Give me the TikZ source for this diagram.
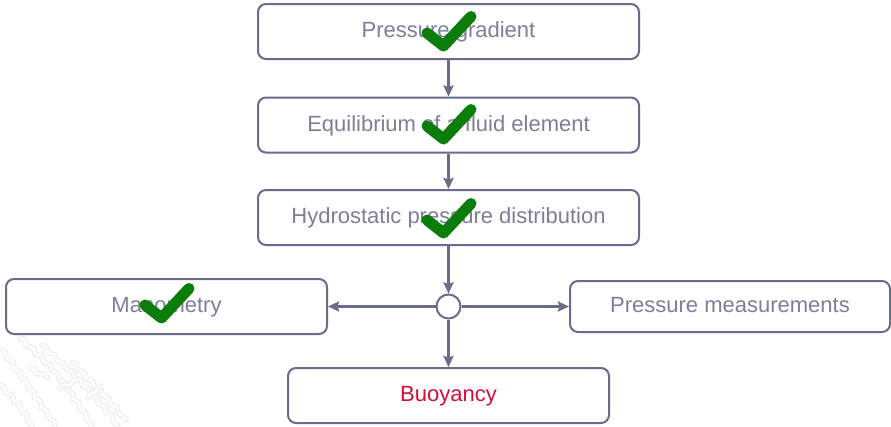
\documentclass[tikz,border=0pt]{standalone}
\usepackage{fontspec}
\setmainfont{Liberation Sans}
\usetikzlibrary{arrows.meta,decorations.pathmorphing}
\definecolor{edgeclr}{HTML}{6B6B8A}
\definecolor{txtclr}{HTML}{7E7E99}
\definecolor{hotclr}{HTML}{D0103A}
\definecolor{tickclr}{HTML}{0A7D0A}
\definecolor{leafclr}{HTML}{F0F0F0}
\tikzset{
  stepbox/.style={draw=edgeclr, line width=2pt, rounded corners=8pt, fill=white,
    minimum height=55pt, inner sep=0pt, text=txtclr,
    font=\fontsize{22pt}{24pt}\selectfont, text height=1.26em, text depth=0pt},
  hub/.style={draw=edgeclr, line width=2pt, circle, fill=white, minimum size=24pt, inner sep=0pt},
  flow/.style={draw=edgeclr, line width=2.4pt, -{Stealth[length=11pt,width=10pt,inset=1.5pt]}},
  tick/.style={draw=tickclr, line width=11pt, line cap=round, line join=round},
  leaf/.style={draw=leafclr, line width=1.6pt, double=white, double distance=2.2pt, line cap=round,
    decorate, decoration={snake, amplitude=1.5pt, segment length=12pt}}
}
\begin{document}
\begin{tikzpicture}[x=1pt,y=-1pt]
  \useasboundingbox[fill=white] (0,0) rectangle (891,426);

  % faint leaf veins in the lower left corner
  \draw[leaf] (2,350) .. controls (25,380) .. (55,426);
  \draw[leaf] (20,338) .. controls (55,370) .. (92,426);
  \draw[leaf] (42,345) .. controls (80,380) .. (118,426);
  \draw[leaf] (72,362) .. controls (95,385) .. (126,420);
  \draw[leaf] (0,385) .. controls (15,400) .. (32,426);
  \draw[leaf] (30,368) -- (48,378);
  \draw[leaf] (60,388) -- (78,380);
  \draw[leaf] (88,398) -- (100,386);

  % boxes
  \node[stepbox, minimum width=381pt] (grad) at (448.5,31.5) {Pressure gradient};
  \node[stepbox, minimum width=381pt] (equil) at (448.5,125) {Equilibrium of a fluid element};
  \node[stepbox, minimum width=381pt] (hydro) at (448.5,217.5) {Hydrostatic pressure distribution};
  \node[stepbox, minimum width=321pt] (mano) at (166.5,306.5) {Manometry};
  \node[stepbox, minimum width=320pt, minimum height=51pt] (meas) at (730,306.5) {Pressure measurements};
  \node[stepbox, minimum width=321pt, text=hotclr] (buoy) at (448.5,395.5) {Buoyancy};
  \node[hub] (split) at (448.5,306.5) {};

  % connectors
  \draw[flow] (grad) -- (equil);
  \draw[flow] (equil) -- (hydro);
  \draw[flow] (hydro) -- (split);
  \draw[flow] (split) -- (mano);
  \draw[flow] (split) -- (meas);
  \draw[flow] (split) -- (buoy);

  % check marks
  \draw[tick] (427,33) -- (443.5,46) -- (471,16.5);
  \draw[tick] (427,126) -- (443.5,139) -- (471,109.5);
  \draw[tick] (427,220) -- (443.5,233) -- (471,203.5);
  \draw[tick] (145,305) -- (161.5,318) -- (189,288.5);
\end{tikzpicture}
\end{document}
